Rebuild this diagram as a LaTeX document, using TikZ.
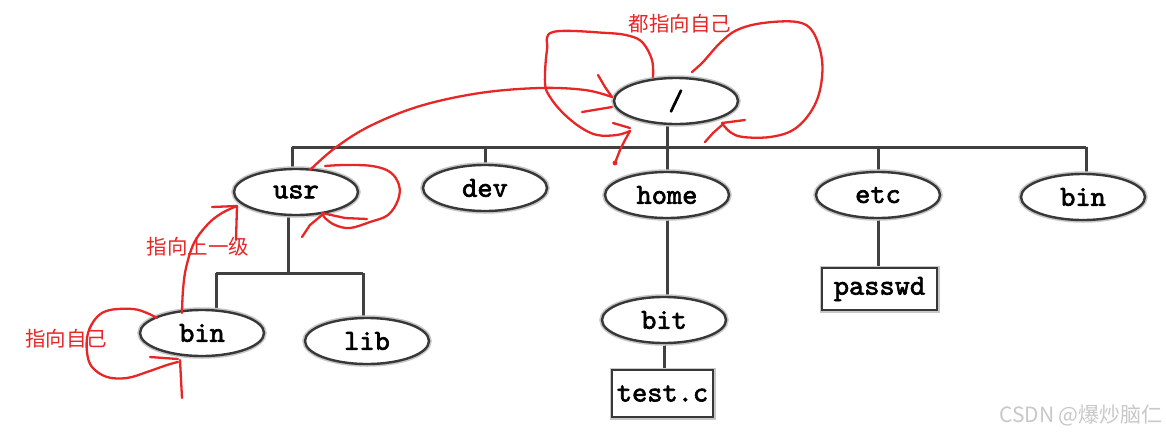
\documentclass[tikz,border=0pt]{standalone}
\usepackage{fontspec}
\newfontfamily\cjk{Noto Sans CJK SC}
\newfontfamily\treefont{lmmono10-regular.otf}[FakeBold=2.2]
\usetikzlibrary{shapes.geometric,backgrounds}
\definecolor{redink}{RGB}{232,38,38}
\definecolor{wmgray}{RGB}{200,200,200}
\begin{document}
\begin{tikzpicture}[x=1pt,y=-1pt,
  dirnode/.style={ellipse, draw=black!78, line width=2.4pt, fill=white,
    minimum width=124pt, minimum height=46pt, inner sep=0pt,
    font=\fontsize{29}{29}\selectfont\treefont,
    preaction={draw=black!22, line width=5.5pt}},
  filebox/.style={rectangle, draw=black!78, line width=2.2pt, fill=white,
    inner sep=0pt, font=\fontsize{29}{29}\selectfont\treefont,
    preaction={draw=black!22, line width=5pt}},
  treeline/.style={draw=black!75, line width=3pt},
  redmark/.style={draw=redink, line width=2.3pt, line cap=round, line join=round},
  redlabel/.style={text=redink, font=\fontsize{20.5}{20.5}\selectfont\cjk, inner sep=0pt}]
\useasboundingbox (0,0) rectangle (1166,437);

% ---- nodes
\node[dirnode] (root) at (676,101) {/};
\node[dirnode] (usr)  at (296,192) {usr};
\node[dirnode] (dev)  at (485,188) {dev};
\node[dirnode] (home) at (667,195) {home};
\node[dirnode] (etc)  at (878,195) {etc};
\node[dirnode] (binr) at (1083,197) {bin};
\node[dirnode] (binl) at (202,333) {bin};
\node[dirnode] (lib)  at (367,341) {lib};
\node[dirnode] (bit)  at (664,320) {bit};
\node[filebox, minimum width=101pt, minimum height=47pt] (testc) at (662.5,393.5) {\raisebox{-5pt}{test.c}};
\node[filebox, minimum width=115pt, minimum height=42pt] (passwd) at (879.5,289) {\raisebox{-6pt}{passwd}};

% ---- tree lines
\coordinate (barL) at (292,147);
\coordinate (barR) at (1086,147);
\coordinate (subL) at (216,273);
\coordinate (subR) at (363,273);
\coordinate (stem) at (288,273);
\begin{scope}[on background layer]
\fill[white] (0,0) rectangle (1166,437);
\draw[treeline] (barL) -- (barR);
\draw[treeline] (barL) -- (barL |- usr.center);
\draw[treeline] (dev.center) -- (dev.center |- barL);
\draw[treeline] (root.center -| home.center) -- (home.center);
\draw[treeline] (etc.center) -- (etc.center |- barL);
\draw[treeline] (barR) -- (barR |- binr.center);
\draw[treeline] (stem |- usr.center) -- (stem);
\draw[treeline] (subL) -- (subR);
\draw[treeline] (subL) -- (subL |- binl.center);
\draw[treeline] (subR) -- (subR |- lib.center);
\draw[treeline] (home.center) -- (home.center |- bit.center);
\draw[treeline] (bit.center) -- (bit.center |- testc.center);
\draw[treeline] (etc.center) -- (etc.center |- passwd.center);
\end{scope}

% ---- red annotations
% usr -> root
\draw[redmark] plot[smooth, tension=0.6] coordinates
  {(310,170) (335,148) (370,126) (420,106) (480,93) (540,88) (585,90) (612,97)};
\draw[redmark] (598,75) -- (605,87) -- (612,97);
\draw[redmark] (612,107) -- (582,112);
% root left self loop
\draw[redmark] plot[smooth, tension=0.6] coordinates
  {(653,77) (652,60) (643,43) (630,36) (607,33) (553,32) (547,50) (545,83) (550,97) (563,113) (580,127) (597,135) (617,135) (630,131)};
\draw[redmark] (613,123) -- (630,128);
\draw[redmark] (630,131) -- (625,140) -- (620,150) -- (615,163);
\fill[redink] (615,163) circle (2.4pt);
% root right self loop
\draw[redmark] plot[smooth, tension=0.6] coordinates
  {(692,72) (703,62) (720,43) (737,30) (763,23) (797,22) (813,32) (822,60) (820,90) (810,113) (793,130) (770,137) (743,137) (730,132) (722,123)};
\draw[redmark] (722,123) -- (745,120);
\draw[redmark] (722,125) -- (713,133) -- (705,142);
% usr self loop
\draw[redmark] plot[smooth, tension=0.6] coordinates
  {(325,166) (345,165) (372,166) (390,172) (399,185) (398,200) (388,215) (370,222) (350,228) (335,225) (325,218) (322,213)};
\draw[redmark] (322,213) -- (345,218) -- (367,219);
\draw[redmark] (322,215) -- (310,225) -- (302,237);
% bin -> usr
\draw[redmark] plot[smooth, tension=0.6] coordinates
  {(182,313) (183,290) (186,268) (194,243) (208,224) (222,213) (237,206)};
\draw[redmark] (212,207) -- (237,206);
\draw[redmark] (237,206) -- (236,240);
% bin self loop
\draw[redmark] plot[smooth, tension=0.6] coordinates
  {(157,318) (147,313) (133,309) (110,310) (97,317) (88,333) (87,352) (92,367) (107,377) (127,378) (147,372) (167,365) (178,362)};
\draw[redmark] (150,357) -- (178,359);
\draw[redmark] (180,360) -- (182,398);

% ---- labels
\node[redlabel] (lblroot) at (680,24) {都指向自己};
\node[redlabel] (lblup) at (198,247) {指向上一级};
\node[redlabel] (lblself) at (66,339) {指向自己};
\node[text=wmgray, font=\fontsize{21}{21}\selectfont\cjk, anchor=east, inner sep=0pt] (wmark) at (1163,415) {CSDN @爆炒脑仁};
\end{tikzpicture}
\end{document}
